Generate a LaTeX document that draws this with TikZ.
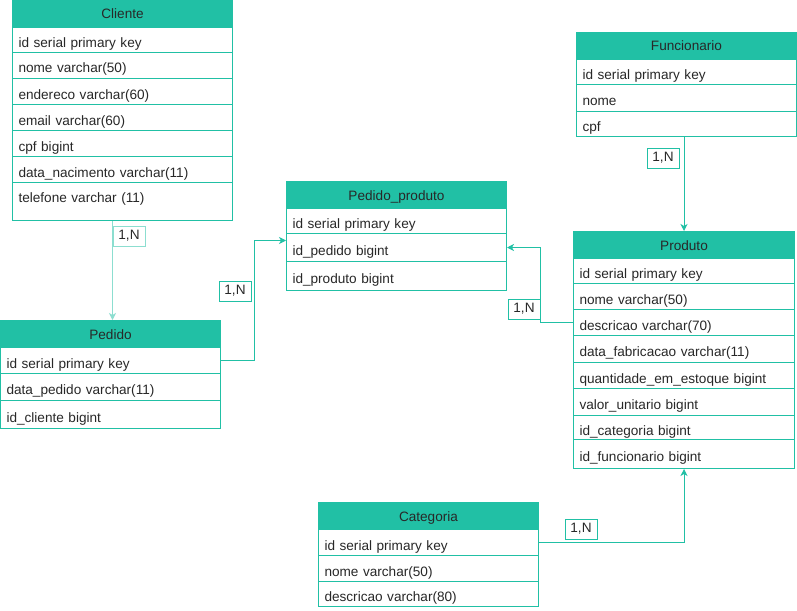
\documentclass[tikz,border=0pt]{standalone}
\usepackage{fontspec}
\setmainfont{Liberation Sans}
\usetikzlibrary{arrows.meta,positioning,calc}
\definecolor{teal1}{RGB}{33,192,165}
\definecolor{teallight}{RGB}{140,222,208}
\definecolor{txt}{RGB}{40,40,40}
\tikzset{
  hdr/.style={draw=teal1, fill=teal1, line width=1pt, anchor=north west, inner xsep=0pt, inner ysep=0pt,
    minimum width=#1, minimum height=27pt, text=txt, font=\fontsize{13.6}{16}\selectfont, text height=10pt, text depth=0pt},
  row/.style={draw=teal1, fill=white, line width=1pt, anchor=north west, inner xsep=6pt, inner ysep=0pt,
    text width=208pt, align=left, text=txt, font=\fontsize{13.6}{16}\selectfont, text height=15pt, text depth=0pt},
  conn/.style={draw=teal1, line width=1pt, -{Stealth[length=7pt,width=7pt,inset=2pt]}},
  card/.style={draw=teal1, fill=white, line width=1pt, minimum width=32pt, minimum height=20pt, inner sep=0pt,
    text=txt, font=\fontsize{13.6}{16}\selectfont}
}
\begin{document}
\begin{tikzpicture}[x=1pt,y=-1pt]
\useasboundingbox (0,0) rectangle (797,610);
% Cliente
\node[hdr=220pt] (clih) at (12,0) {Cliente};
\node[row, minimum height=25pt] (cli1) at (12,27) {id serial primary key};
\node[row, minimum height=26pt] (cli2) at (12,52) {nome varchar(50)};
\node[row, minimum height=26pt] (cli3) at (12,78) {endereco varchar(60)};
\node[row, minimum height=26pt] (cli4) at (12,104) {email varchar(60)};
\node[row, minimum height=26pt] (cli5) at (12,130) {cpf bigint};
\node[row, minimum height=26pt] (cli6) at (12,156) {data\_nacimento varchar(11)};
\node[row, minimum height=38pt, text depth=13pt] (cli7) at (12,182) {telefone varchar (11)};
% Pedido
\node[hdr=220pt] (pedh) at (0,320) {Pedido};
\node[row, minimum height=26pt] (ped1) at (0,347) {id serial primary key};
\node[row, minimum height=27pt] (ped2) at (0,373) {data\_pedido varchar(11)};
\node[row, minimum height=28pt] (ped3) at (0,400) {id\_cliente bigint};
% Pedido_produto
\node[hdr=220pt] (pph) at (286,181) {Pedido\_produto};
\node[row, minimum height=25pt] (pp1) at (286,208) {id serial primary key};
\node[row, minimum height=28pt] (pp2) at (286,233) {id\_pedido bigint};
\node[row, minimum height=29pt] (pp3) at (286,261) {id\_produto bigint};
% Funcionario
\node[hdr=220pt] (funh) at (576,32) {Funcionario};
\node[row, minimum height=25pt] (fun1) at (576,59) {id serial primary key};
\node[row, minimum height=27pt] (fun2) at (576,84) {nome};
\node[row, minimum height=25pt] (fun3) at (576,111) {cpf};
% Produto
\node[hdr=221pt] (proh) at (573,231) {Produto};
\node[row, text width=209pt, minimum height=25pt] (pro1) at (573,258) {id serial primary key};
\node[row, text width=209pt, minimum height=26pt] (pro2) at (573,283) {nome varchar(50)};
\node[row, text width=209pt, minimum height=26pt] (pro3) at (573,309) {descricao varchar(70)};
\node[row, text width=209pt, minimum height=27pt] (pro4) at (573,335) {data\_fabricacao varchar(11)};
\node[row, text width=209pt, minimum height=26pt] (pro5) at (573,362) {quantidade\_em\_estoque bigint};
\node[row, text width=209pt, minimum height=27pt] (pro6) at (573,388) {valor\_unitario bigint};
\node[row, text width=209pt, minimum height=24pt] (pro7) at (573,415) {id\_categoria bigint};
\node[row, text width=209pt, minimum height=29pt] (pro8) at (573,439) {id\_funcionario bigint};
% Categoria
\node[hdr=220pt] (cath) at (318,502) {Categoria};
\node[row, minimum height=26pt] (cat1) at (318,529) {id serial primary key};
\node[row, minimum height=26pt] (cat2) at (318,555) {nome varchar(50)};
\node[row, minimum height=25pt] (cat3) at (318,581) {descricao varchar(80)};
% Connectors
\draw[conn, draw=teallight] ([xshift=-10pt]cli7.south) -- ([xshift=2pt]pedh.north);
\draw[conn] (ped1.east) -- ++(33,0) |- ([yshift=7pt]pp2.west);
\draw[conn] (fun3.south -| proh.north) -- (proh.north);
\draw[teallight, line width=1pt] (pro3.west) ++(-33,0) coordinate (pk) -- (pk |- pp2.east);
\draw[conn] (pro3.west) -- (pk) |- (pp2.east);
\draw[conn] (cat1.east) -| (pro8.south);
% Cardinality labels
\node[card, draw=teallight] (l1) at (129,236) {1,N};
\node[card] (l2) at (235,291) {1,N};
\node[card] (l3) at (663,158) {1,N};
\node[card] (l4) at (524,309) {1,N};
\node[card] (l5) at (581,529) {1,N};
\end{tikzpicture}
\end{document}
